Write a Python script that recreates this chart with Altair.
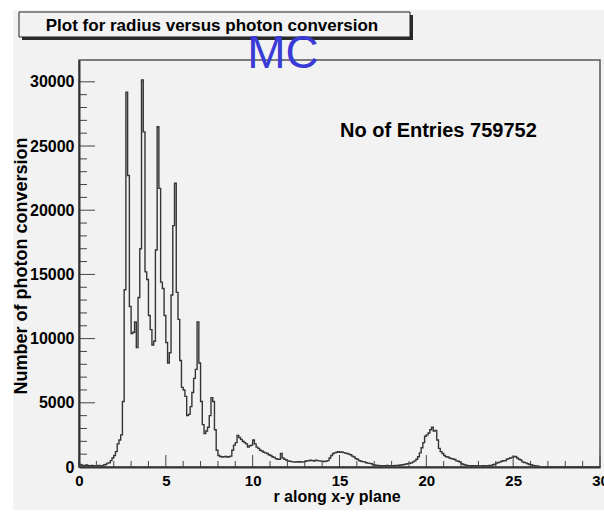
import altair as alt
import pandas as pd

FONT = "Liberation Sans"

# histogram contents, 0.1-wide bins from r = 0 to 30
counts = (
    [200, 150, 100, 120, 150, 100, 80, 130, 110, 90,
     100, 120, 80, 100, 150, 200, 300, 320, 500, 700]
    + [900, 1200, 1800, 2100, 2500, 5100, 13800, 29200, 22700, 12500]
    + [10400, 10500, 11300, 9300, 13200, 17000, 30150, 26100, 15200, 14600]
    + [11800, 10700, 9500, 9800, 16900, 26500, 21700, 14400, 13900, 11800]
    + [9700, 8100, 8900, 13400, 18800, 22100, 13600, 11500, 8300, 6200]
    + [6000, 5500, 4000, 4100, 4700, 5800, 6900, 7600, 11300, 8100]
    + [5100, 3300, 2600, 2800, 3100, 4000, 5400, 5100, 2900, 1300]
    + [900, 820, 780, 800, 820, 780, 800, 850, 1300, 1700]
    + [1900, 2450, 2300, 2150, 2000, 1900, 1800, 1550, 1650, 1700]
    + [2100, 1800, 1550, 1450, 1300, 1250, 1150, 1100, 1050, 950]
    + [900, 800, 750, 650, 600, 600, 1050, 700, 600, 550]
    + [480, 450, 420, 400, 380, 420, 390, 410, 380, 400]
    + [450, 500, 480, 520, 500, 470, 530, 500, 480, 460]
    + [450, 430, 460, 500, 700, 900, 1050, 1100, 1150, 1200]
    + [1150, 1180, 1120, 1080, 1050, 1000, 950, 850, 780, 650]
    + [600, 500, 450, 420, 400, 330, 300, 280, 250, 180]
    + [150, 130, 120, 100, 110, 90, 100, 120, 100, 90]
    + [110, 100, 120, 130, 140, 160, 180, 200, 230, 260]
    + [280, 320, 400, 480, 600, 800, 1100, 1500, 1900, 2400]
    + [2500, 2650, 2900, 3100, 2800, 2850, 2100, 1450, 1200, 1050]
    + [900, 800, 780, 700, 650, 620, 580, 480, 450, 380]
    + [250, 200, 150, 130, 110, 80, 100, 90, 110, 100]
    + [90, 80, 100, 110, 90, 100, 120, 110, 180, 220]
    + [300, 350, 380, 450, 500, 480, 600, 650, 700, 750]
    + [800, 820, 700, 600, 550, 400, 350, 320, 250, 200]
    + [180, 120, 100, 80, 60, 0, 0, 0, 0, 0]
    + [0] * 30
)
bin_width = 0.1

x_major = [0, 5, 10, 15, 20, 25, 30]
x_minor = [v for v in range(1, 30) if v % 5 != 0]
y_major = [0, 5000, 10000, 15000, 20000, 25000, 30000]
y_minor = [v for v in range(1000, 31000, 1000) if v % 5000 != 0]

title_text = "Plot for radius versus photon conversion"
mc_text = "MC"
entries_text = "No of Entries 759752"
x_title = "r along x-y plane"
y_title = "Number of photon conversion"

W, H = 521, 407

hist_df = pd.DataFrame({
    "r": [round(i * bin_width, 2) for i in range(len(counts) + 1)],
    "n": counts + [counts[-1]],
})

xs = alt.Scale(domain=[0, 30], nice=False, zero=False)
ys = alt.Scale(domain=[0, 31700], nice=False)

one = pd.DataFrame({"k": [0]})

canvas = alt.Chart(one).mark_rect(color="#f2f2f2").encode(
    x=alt.value(-66), x2=alt.value(530), y=alt.value(-50), y2=alt.value(450)
)

hist = alt.Chart(hist_df).mark_line(
    interpolate="step-after", color="#353535", strokeWidth=1.4
).encode(
    x=alt.X("r:Q", scale=xs, axis=alt.Axis(
        values=x_major, title=None, ticks=False, grid=False, zindex=1,
        labelFont=FONT, labelFontSize=15, labelFontWeight="bold", labelColor="black",
        labelPadding=6, labelFlush=False, labelOverlap=False, format="d",
        domainColor="#333333", domainWidth=2)),
    y=alt.Y("n:Q", scale=ys, axis=alt.Axis(
        values=y_major, title=None, ticks=False, grid=False, zindex=1,
        labelFont=FONT, labelFontSize=16, labelFontWeight="bold", labelColor="black",
        labelPadding=5, labelFlush=False, labelOverlap=False, format="d",
        domainColor="#333333", domainWidth=2)),
)

def xticks(vals, length):
    return alt.Chart(pd.DataFrame({"r": vals})).mark_rule(color="#444", strokeWidth=1).encode(
        x=alt.X("r:Q", scale=xs), y=alt.value(H), y2=alt.value(H - length))

def yticks(vals, length):
    return alt.Chart(pd.DataFrame({"n": vals})).mark_rule(color="#444", strokeWidth=1).encode(
        y=alt.Y("n:Q", scale=ys), x=alt.value(0), x2=alt.value(length))

frame = alt.Chart(one).mark_rect(fill="#f2f2f2", fillOpacity=0, stroke="#555", strokeWidth=1.5).encode(
    x=alt.value(0), x2=alt.value(W), y=alt.value(0), y2=alt.value(H))

shadow = alt.Chart(one).mark_rect(color="#2a2a2a").encode(
    x=alt.value(-57), x2=alt.value(334), y=alt.value(-45), y2=alt.value(-20))
box = alt.Chart(one).mark_rect(fill="#f2f2f2", stroke="#222", strokeWidth=1).encode(
    x=alt.value(-60), x2=alt.value(331), y=alt.value(-48), y2=alt.value(-23))

def label(text, x, y, size, weight="bold", color="black", align="center", baseline="alphabetic", angle=0):
    kw = dict(font=FONT, fontSize=size, fontWeight=weight, color=color, align=align, baseline=baseline)
    if angle:
        kw["angle"] = angle
    return alt.Chart(pd.DataFrame({"t": [text]})).mark_text(**kw).encode(
        text="t:N", x=alt.value(x), y=alt.value(y))

chart = alt.layer(
    canvas,
    hist,
    xticks(x_major, 12), xticks(x_minor, 6),
    yticks(y_major, 16), yticks(y_minor, 8),
    frame,
    shadow, box,
    label(title_text, 133, -29, 17),
    label(mc_text, 204, 8, 46, weight="normal", color="#3a3ad6"),
    label(entries_text, 261, 77, 20, align="left"),
    label(x_title, 258, 442, 16),
    label(y_title, -57, 206, 18, baseline="middle", angle=270),
).properties(
    width=W, height=H,
    padding={"left": 79, "top": 60, "right": 4, "bottom": 50},
    autosize=alt.AutoSizeParams(type="none"),
).configure(background="white").configure_view(stroke=None)

chart.save("out.html", embed_options={"renderer": "svg", "actions": False})
